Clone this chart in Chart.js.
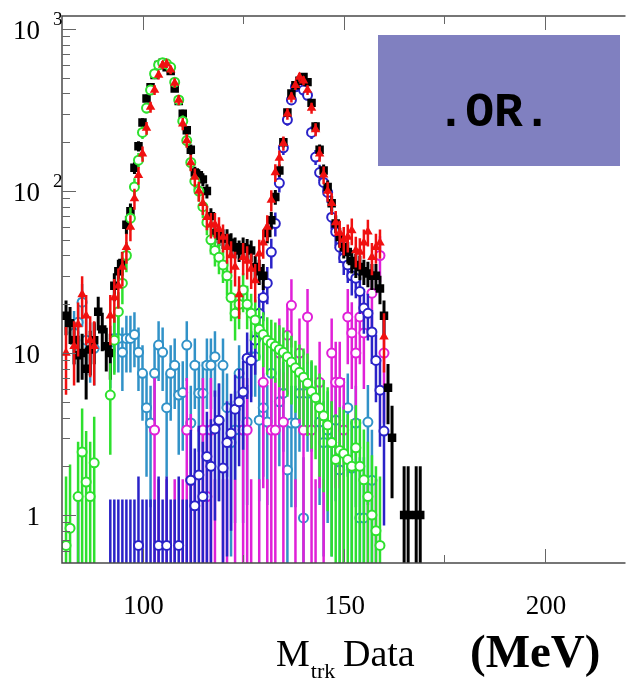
<!DOCTYPE html>
<html>
<head>
<meta charset="utf-8">
<script src="https://cdn.jsdelivr.net/npm/chart.js@4.4.1/dist/chart.umd.min.js"></script>
<style>
  html, body { margin: 0; padding: 0; background: #fff; }
  canvas { display: block; }
</style>
</head>
<body>
<canvas id="mtrk" width="632" height="680"></canvas>
<script>
// track mass bins (MeV), one entry per bin
const massBins = [
   80,  81,  82,  83,  84,  85,  86,  87,  88,  89,
   90,  91,  92,  93,  94,  95,  96,  97,  98,  99,
  100, 101, 102, 103, 104, 105, 106, 107, 108, 109,
  110, 111, 112, 113, 114, 115, 116, 117, 118, 119,
  120, 121, 122, 123, 124, 125, 126, 127, 128, 129,
  130, 131, 132, 133, 134, 135, 136, 137, 138, 139,
  140, 141, 142, 143, 144, 145, 146, 147, 148, 149,
  150, 151, 152, 153, 154, 155, 156, 157, 158, 159,
  160, 161, 162, 163, 164, 165, 166, 167, 168, 169
];

// data, all events (black squares)
const dataAll = [
  null, 17, 15.3, 12, 9.7, 10, 8, 10.5, 12, 18,
  14, 11, 10, 26, 32, 36, 62, 75, 139, 189,
  265, 373, 437, 520, 600, 620, 580, 550, 430, 360,
  300, 237, 180, 130, 125, 118, 100, 70, 55, 53,
  51, 51, 48, 45, 43, 45, 44, 43, 34, 32,
  30, 55, 66, 92, 134, 200, 305, 400, 450, 480,
  505, 470, 350, 250, 180, 134, 106, 84, 63, 52,
  45, 42, 37, 35, 34, 32, 31, 30, 30, 25,
  17, 6.1, 3, null, null, 1, 1, null, 1, 1
];

// .OR. selection (red triangles)
const dataOr = [
  null, 10, null, 11, 15, 23, 17, 12, 11, null,
  null, null, 17, 22, 26, 34, 45, 60, 90, 125,
  170, 245, 330, 420, 520, 600, 610, 560, 465, 365,
  260, 205, 150, 122, 100, 84, 69, 62, 62, 58,
  52, 45, 40, 34, 23, 39, 37, 33, 28, 41,
  48, 60, 88, 130, 160, 197, 300, 380, 450, 505,
  480, 420, 325, 240, 170, 126, 100, 84, 64, 55,
  50, 52, 57, 43, 42, 48, 56, 39, 45, 48,
  12.6, null, null, null, null, null, null, null, null, null
];

// first peak component (green)
const peakLow = [
  null, 0.65, 0.83, null, 1.3, 2.45, 1.6, 1.3, 2.1, null,
  null, null, 5.5, 12, 18, 27, 40, 68, 106, 155,
  230, 325, 420, 530, 600, 620, 610, 580, 470, 365,
  270, 205, 150, 115, 100, 80, 64, 50, 43, 39,
  35, 30, 22, 17.6, 20, 24.5, 20, 17.6, 16, 14,
  13, 12, 11.5, 11, 10.5, 10.1, 9.5, 8.8, 8.1, 7.6,
  7.1, 6.5, 5.8, 5.3, 4.6, 4.1, 3.6, 2.8, 2.2, 2.5,
  2.4, 2.2, 2.0, 2.6, 2.0, 1.65, 1.3, 1.0, 0.8, 0.65,
  null, null, null, null, null, null, null, null, null, null
];

// second peak component (blue)
const peakHigh = [
  null, null, null, null, 0.4, null, null, null, null, null,
  null, null, 0.4, 0.4, 0.4, 0.4, 0.4, 0.4, 0.4, 0.65,
  0.4, 0.4, 0.4, 0.4, 0.65, 0.4, 0.65, 0.4, 0.4, 0.65,
  0.4, 0.4, 1.64, 1.14, 1.77, 1.3, 2.3, 2.0, 3.4, 3.85,
  1.95, 2.8, 3.2, 4.5, 5.0, 5.75, 9.3, 9.0, 12, 17.6,
  22, 27, 42, 63, 112, 185, 275, 365, 440, 450,
  420, 390, 230, 162, 130, 113, 98, 69, 56, 45,
  38.6, 35, 30, 29, 24, 19, 17.6, 13.5, 9, 5.9,
  3.3, null, null, null, null, null, null, null, null, null
];

// flat background (steel blue)
const bkgFlat = [
  null, null, null, 13.3, 15.5, 20.6, 12, 11, 10.7, null,
  null, null, 10.4, 12.3, 12.3, 10.1, 12.3, 12.3, 13, 10.1,
  7.5, 4.6, 3.7, 7.5, 11.2, 10.1, 4.6, 7.5, 8.4, 5.5,
  5.7, 11.2, 3.7, 8.4, 5.65, 5.65, 8.4, 8.4, 9.5, 3.85,
  8.4, 4.6, 2.8, 3.35, 7.5, 3.35, 3.75, 9.5, 9.5, 3.85,
  4.6, 3.75, 7.5, null, 5, 5.65, 1.9, 3.7, 3.7, 5.65,
  0.96, 5.65, 5.65, null, 3.75, 2.8, 3.35, 2.8, 3.85, 1.9,
  null, 4.6, 1.95, 3.7, 0.96, 0.96, 3.75, 1.64, null, null,
  null, null, null, null, null, null, null, null, null, null
];

// high mass background (magenta)
const bkgHigh = [
  null, null, null, null, null, null, null, null, null, null,
  null, null, null, null, null, null, null, null, null, null,
  null, null, null, 3.35, 0.4, null, 0.4, null, 0.4, null,
  0.4, 3.35, 1.64, 0.4, null, 3.35, 1.3, 3.35, 0.4, null,
  0.4, 0.4, null, 0.4, null, 3.35, 3.35, 0.4, null, 0.4,
  6.6, 0.4, 3.35, 3.35, 10, 3.75, 12.9, 19.7, 0.4, 10,
  3.35, 16.7, 3.35, 0.4, 6.6, 0.4, null, 10, 6.6, 6.6,
  3.35, 16.7, 13.3, 10, 16.7, 13.3, 0.4, 23.4, 0.4, 40,
  10, null, null, null, null, null, null, null, null, null
];

// axis ticks and labels
const xTickValues = [100, 150, 200];
const xTickText = ['100', '150', '200'];
const xMinorTicks = [125, 175];
const yTickValues = [1, 10, 100, 1000];
const yTickText = ['1', '10', '10', '10'];
const yTickSup = ['', '', '2', '3'];

function points(values) {
  return values
    .map((v, i) => ({ x: massBins[i], y: v }))
    .filter(p => p.y !== null);
}

function openCircles(label, values, color, errScale, order) {
  return {
    label: label,
    data: points(values),
    pointStyle: 'circle',
    pointRadius: 4.5,
    pointBorderWidth: 2,
    pointBorderColor: color,
    pointBackgroundColor: '#ffffff',
    barColor: color,
    barWidth: 2.5,
    errScale: errScale,
    order: order,
    clip: 0
  };
}

// vertical error bars, drawn under each dataset's markers
const errorBars = {
  id: 'errorBars',
  beforeDatasetDraw(chart, args) {
    const ds = chart.data.datasets[args.index];
    const area = chart.chartArea;
    const yScale = chart.scales.y;
    const ctx = chart.ctx;
    ctx.save();
    ctx.beginPath();
    ctx.rect(area.left, area.top, area.right - area.left, area.bottom - area.top);
    ctx.clip();
    ctx.strokeStyle = ds.barColor;
    ctx.lineWidth = ds.barWidth;
    args.meta.data.forEach((pt, i) => {
      const v = ds.data[i].y;
      const err = Math.sqrt(ds.errScale * v);
      const top = yScale.getPixelForValue(v + err);
      const low = v - err;
      const bottom = low > 0 ? yScale.getPixelForValue(low) : area.bottom + 2;
      ctx.beginPath();
      ctx.moveTo(pt.x, top);
      ctx.lineTo(pt.x, bottom);
      ctx.stroke();
    });
    ctx.restore();
  }
};

// frame, ticks, labels and the .OR. box
const frame = {
  id: 'frame',
  afterDatasetsDraw(chart) {
    const ctx = chart.ctx;
    const area = chart.chartArea;
    const xs = chart.scales.x;
    const ys = chart.scales.y;
    ctx.save();

    ctx.strokeStyle = '#4a4a4a';
    ctx.lineWidth = 1.5;
    ctx.beginPath();
    ctx.moveTo(area.right, area.top);
    ctx.lineTo(area.left, area.top);
    ctx.lineTo(area.left, area.bottom);
    ctx.lineTo(area.right, area.bottom);
    ctx.stroke();

    // log ticks on the left
    ctx.lineWidth = 1;
    ctx.strokeStyle = '#666';
    [0.1, 1, 10, 100, 1000].forEach(dec => {
      for (let m = 1; m <= 9; m++) {
        const v = dec * m;
        if (v < ys.min || v > ys.max) continue;
        const y = Math.round(ys.getPixelForValue(v)) + 0.5;
        const len = m === 1 ? 14 : 8;
        ctx.beginPath();
        ctx.moveTo(area.left, y);
        ctx.lineTo(area.left + len, y);
        ctx.stroke();
      }
    });

    // x ticks, top and bottom
    const xTicks = xTickValues.map(v => [v, 14]).concat(xMinorTicks.map(v => [v, 8]));
    xTicks.forEach(([v, len]) => {
      const x = Math.round(xs.getPixelForValue(v)) + 0.5;
      ctx.beginPath();
      ctx.moveTo(x, area.top);
      ctx.lineTo(x, area.top + len);
      ctx.moveTo(x, area.bottom);
      ctx.lineTo(x, area.bottom - len);
      ctx.stroke();
    });

    // tick labels
    ctx.fillStyle = '#000';
    ctx.textBaseline = 'middle';
    yTickValues.forEach((v, i) => {
      const y = ys.getPixelForValue(v);
      ctx.font = '27px "Liberation Serif"';
      ctx.textAlign = 'right';
      ctx.fillText(yTickText[i], 40, y + 3);
      if (yTickSup[i]) {
        ctx.font = '19px "Liberation Serif"';
        ctx.textAlign = 'left';
        ctx.fillText(yTickSup[i], 53, y - 9);
      }
    });
    ctx.font = '27px "Liberation Serif"';
    ctx.textAlign = 'center';
    ctx.textBaseline = 'alphabetic';
    xTickValues.forEach((v, i) => {
      ctx.fillText(xTickText[i], xs.getPixelForValue(v) + 1, 614);
    });

    // axis title
    ctx.textAlign = 'left';
    ctx.font = '38px "Liberation Serif"';
    ctx.fillText('M', 276, 666);
    const wM = ctx.measureText('M').width;
    ctx.font = '22px "Liberation Serif"';
    ctx.fillText('trk', 276 + wM + 1, 678);
    ctx.font = '38px "Liberation Serif"';
    ctx.fillText('Data', 343, 666);
    ctx.font = 'bold 47px "Liberation Serif"';
    ctx.fillText('(MeV)', 470, 667);

    // selection box
    ctx.fillStyle = '#8080c0';
    ctx.fillRect(378, 35, 242, 131);
    ctx.fillStyle = '#000';
    ctx.font = 'bold 48px "Liberation Mono"';
    ctx.textAlign = 'center';
    ctx.fillText('.OR.', 494, 126);

    ctx.restore();
  }
};

new Chart(document.getElementById('mtrk'), {
  type: 'scatter',
  data: {
    datasets: [
      {
        label: 'Data .OR.',
        data: points(dataOr),
        pointStyle: 'triangle',
        pointRadius: 5.5,
        pointBorderWidth: 0,
        pointBackgroundColor: '#f01010',
        barColor: '#f01010',
        barWidth: 2.5,
        errScale: 2,
        order: 1,
        clip: 0
      },
      openCircles('Peak 1', peakLow, '#2ee02e', 1.8, 2),
      {
        label: 'Data',
        data: points(dataAll),
        pointStyle: 'rect',
        pointRadius: 6,
        pointBorderWidth: 0,
        pointBackgroundColor: '#000000',
        barColor: '#000000',
        barWidth: 3,
        errScale: 1,
        order: 3,
        clip: 0
      },
      openCircles('Peak 2', peakHigh, '#2a22c8', 1.8, 4),
      openCircles('Bkg high', bkgHigh, '#e020d8', 4, 5),
      openCircles('Bkg flat', bkgFlat, '#3192c8', 1.8, 6)
    ]
  },
  options: {
    responsive: false,
    devicePixelRatio: 1,
    animation: false,
    layout: { padding: { left: 62, top: 16, right: 0, bottom: 117 } },
    plugins: {
      legend: { display: false },
      tooltip: { enabled: false }
    },
    elements: { point: { hoverRadius: 0 } },
    scales: {
      x: { type: 'linear', min: 80, max: 220, display: false },
      y: { type: 'logarithmic', min: 0.506, max: 1203, display: false }
    }
  },
  plugins: [errorBars, frame]
});
</script>
</body>
</html>
